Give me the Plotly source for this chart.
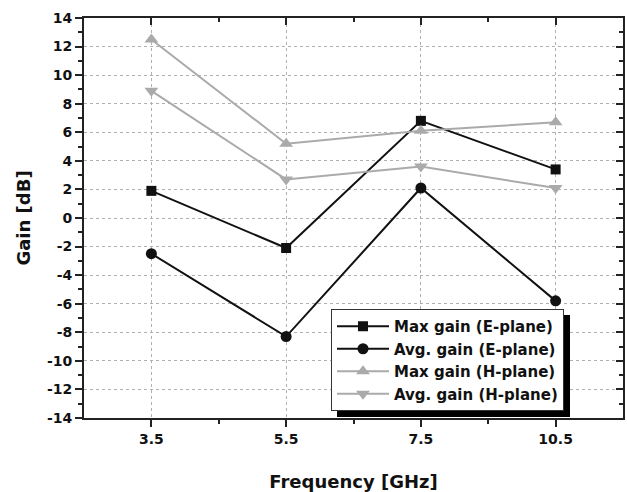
import plotly.graph_objects as go

categories = ["3.5", "5.5", "7.5", "10.5"]
max_gain_e = [1.9, -2.1, 6.8, 3.4]
avg_gain_e = [-2.5, -8.3, 2.1, -5.8]
max_gain_h = [12.5, 5.2, 6.1, 6.7]
avg_gain_h = [8.9, 2.7, 3.6, 2.1]
y_ticks = list(range(-14, 15, 2))

series = [
    ("Max gain (E-plane)", max_gain_e, "#111111", "square", 10),
    ("Avg. gain (E-plane)", avg_gain_e, "#111111", "circle", 11),
    ("Max gain (H-plane)", max_gain_h, "#aaaaaa", "triangle-up", 12),
    ("Avg. gain (H-plane)", avg_gain_h, "#aaaaaa", "triangle-down", 12),
]

xs = list(range(len(categories)))
fig = go.Figure()
for i, (name, vals, col, sym, sz) in enumerate(series):
    fig.add_trace(go.Scatter(
        x=xs, y=vals, name="<b>%s</b>" % name, mode="lines+markers",
        line=dict(color=col, width=2),
        marker=dict(symbol=sym, size=sz, color=col),
    ))
# invisible helper trace to host the mirrored (top/right) axes
fig.add_trace(go.Scatter(x=xs, y=max_gain_e, xaxis="x2", yaxis="y2",
                         mode="markers", marker=dict(opacity=0),
                         showlegend=False, hoverinfo="skip"))

font_family = "DejaVu Sans, Arial, sans-serif"
tickfont = dict(family=font_family, size=14, color="#111111")

L, R, T, B = 84, 4, 18, 74
W, H = 627, 492
pw, ph = W - L - R, H - T - B

def px_x(p):
    return (p - L) / pw

def px_y(p):
    return (H - B - p) / ph

fig.update_layout(
    width=W, height=H,
    margin=dict(l=L, r=R, t=T, b=B, autoexpand=False),
    paper_bgcolor="white", plot_bgcolor="white",
    font=dict(family=font_family, color="#111111"),
    xaxis=dict(
        range=[-0.5, 3.5], tickvals=xs, ticktext=["<b>%s</b>" % c for c in categories],
        tickfont=tickfont, showline=True, linecolor="#222222", linewidth=2,
        mirror=True, ticks="outside", ticklen=7, tickwidth=2, tickcolor="#222222",
        showgrid=True, gridcolor="#b0b0b0", griddash="dot", gridwidth=1,
        minor=dict(tickvals=[0.5, 1.5, 2.5], ticks="outside", ticklen=4,
                   tickwidth=2, tickcolor="#222222", showgrid=False),
        zeroline=False, automargin=False,
        title=dict(text="<b>Frequency [GHz]</b>",
                   font=dict(family=font_family, size=18, color="#111111"),
                   standoff=30),
    ),
    yaxis=dict(
        range=[-14, 14], tickvals=y_ticks,
        ticktext=["<b>%d</b>" % v for v in y_ticks],
        tickfont=tickfont, showline=True, linecolor="#222222", linewidth=2,
        mirror=True, ticks="outside", ticklen=7, tickwidth=2, tickcolor="#222222",
        showgrid=True, gridcolor="#b0b0b0", griddash="dot", gridwidth=1,
        minor=dict(dtick=1, tick0=1, ticks="outside", ticklen=4,
                   tickwidth=2, tickcolor="#222222", showgrid=False),
        zeroline=False, automargin=False,
        title=dict(text="<b>Gain [dB]</b>",
                   font=dict(family=font_family, size=18, color="#111111"),
                   standoff=12),
    ),
    xaxis2=dict(
        overlaying="x", side="top", anchor="y", range=[-0.5, 3.5],
        tickvals=xs, showticklabels=False, ticks="inside", ticklen=7,
        tickwidth=2, tickcolor="#222222", showgrid=False, zeroline=False,
        showline=False, automargin=False,
        minor=dict(tickvals=[0.5, 1.5, 2.5], ticks="inside", ticklen=4,
                   tickwidth=2, tickcolor="#222222", showgrid=False),
    ),
    yaxis2=dict(
        overlaying="y", side="right", anchor="x", range=[-14, 14], dtick=2,
        showticklabels=False, ticks="inside", ticklen=7, tickwidth=2,
        tickcolor="#222222", showgrid=False, zeroline=False, showline=False,
        automargin=False,
        minor=dict(dtick=1, tick0=1, ticks="inside", ticklen=4,
                   tickwidth=2, tickcolor="#222222", showgrid=False),
    ),
    legend=dict(
        x=px_x(331), y=px_y(411), xanchor="left", yanchor="bottom",
        bgcolor="white", bordercolor="#333333", borderwidth=1,
        font=dict(family=font_family, size=15, color="#111111"),
        itemwidth=52, tracegroupgap=0,
    ),
    showlegend=True,
)

# legend drop shadow
fig.add_shape(type="rect", xref="paper", yref="paper",
              x0=px_x(337), x1=px_x(570), y0=px_y(417), y1=px_y(315),
              fillcolor="black", line=dict(width=0), layer="above")

fig.write_html(
    "out.html",
    config={"displayModeBar": False},
    post_script="document.body.style.margin='0';document.body.style.overflow='hidden';",
)
